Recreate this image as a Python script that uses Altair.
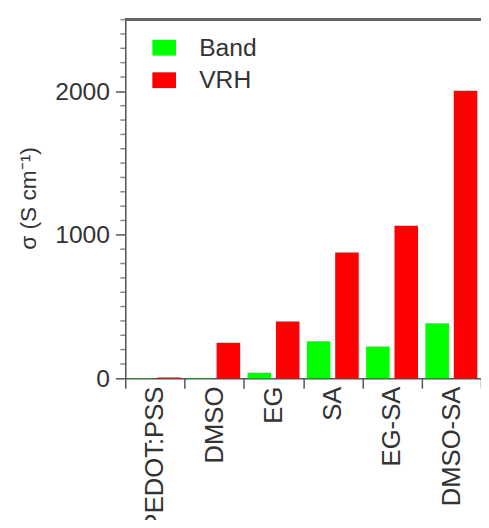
import altair as alt
import pandas as pd

categories = ["PEDOT:PSS", "DMSO", "EG", "SA", "EG-SA", "DMSO-SA"]
band_values = [2, 3, 39, 259, 222, 383]
vrh_values = [6, 247, 396, 877, 1063, 2005]
series = ["Band", "VRH"]
colors = ["#00FF00", "#FF0000"]
y_max = 2500
major_ticks = [0, 1000, 2000]
minor_ticks = [v for v in range(100, 2501, 100) if v % 1000 != 0]

rows = []
for c, b, v in zip(categories, band_values, vrh_values):
    rows.append({"cat": c, "series": "Band", "value": b})
    rows.append({"cat": c, "series": "VRH", "value": v})
df = pd.DataFrame(rows)
minor_df = pd.DataFrame({"value": minor_ticks})

FONT = "Liberation Sans"
AX = "#555555"
TXT = "#333333"

xscale = alt.Scale(domain=categories, paddingInner=0, paddingOuter=0)
yscale = alt.Scale(domain=[0, y_max], nice=False)

y_axis = alt.Axis(
    title="σ (S cm⁻¹)", values=major_ticks, format="d", tickSize=10,
    tickColor=AX, tickWidth=1.5, domainColor=AX, domainWidth=1.5,
    grid=False, labelFont=FONT, labelFontSize=25, labelColor=TXT,
    labelPadding=6, labelOverlap=False,
    titleFont=FONT, titleFontSize=23, titleFontWeight="normal",
    titleColor=TXT, titleAngle=270, titleX=-86, titleY=181,
    titleAlign="center", titleBaseline="bottom")

bars = alt.Chart(df).mark_bar().encode(
    x=alt.X("cat:N", scale=xscale, sort=categories, axis=alt.Axis(
        title=None, orient="bottom", tickBand="extent", labelAngle=270,
        labelAlign="right", labelBaseline="middle", labelPadding=-2,
        tickSize=10, tickColor=AX, tickWidth=1.5, domainColor=AX, domainWidth=1.5,
        labelFont=FONT, labelFontSize=26, labelColor=TXT)),
    xOffset=alt.XOffset("series:N", sort=series,
                        scale=alt.Scale(paddingInner=0.17, paddingOuter=0.13)),
    y=alt.Y("value:Q", scale=yscale, axis=y_axis),
    color=alt.Color("series:N", sort=series,
                    scale=alt.Scale(domain=series, range=colors),
                    legend=alt.Legend(title=None, orient="none", legendX=27, legendY=16,
                                      symbolType="M-1,-0.667H1V0.667H-1Z",
                                      symbolSize=576, symbolStrokeWidth=0,
                                      symbolOpacity=1, labelFont=FONT,
                                      labelFontSize=25, labelColor=TXT,
                                      labelOffset=23, rowPadding=7, padding=0)),
)

# minor ticks of the y axis, every 100
minor = alt.Chart(minor_df).mark_tick(color=AX, size=5, thickness=1.5, clip=False).encode(
    x=alt.value(-2.5),
    y=alt.Y("value:Q", scale=yscale, axis=y_axis),
)

# plot frame: top border line
top_line = alt.Chart(df).mark_rule(color="#666666", strokeWidth=2.5).encode(
    y=alt.value(0),
)

chart = alt.layer(bars, minor, top_line).properties(
    width=361, height=364,
    autosize=alt.AutoSizeParams(type="none"),
    padding={"left": 119, "top": 8, "right": 0, "bottom": 140},
).configure_view(stroke=None).configure(background="white")

chart.save("out.html", embed_options={"renderer": "svg", "actions": False})
